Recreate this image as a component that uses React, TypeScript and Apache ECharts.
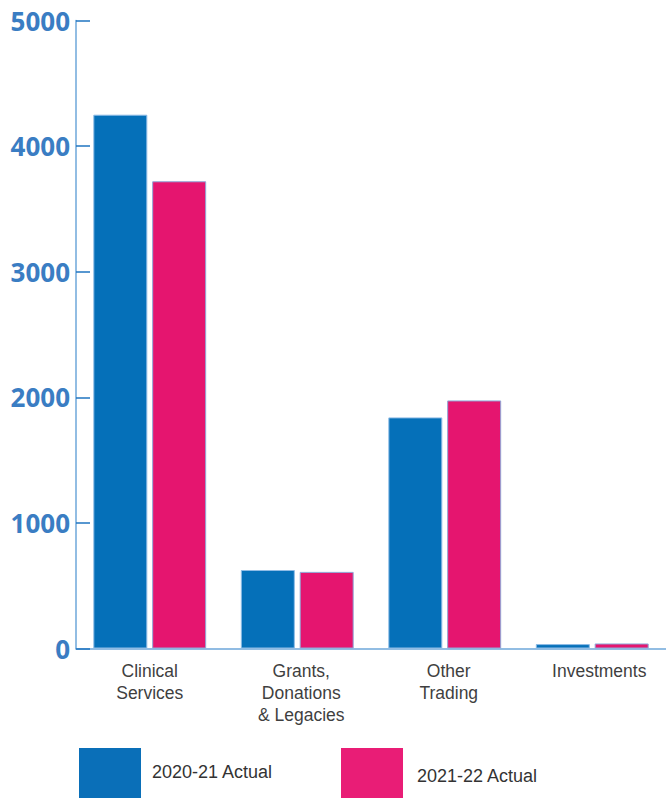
import React, { useEffect, useRef } from "react";
import * as echarts from "echarts";

const categories = ["Clinical\nServices", "Grants,\nDonations\n& Legacies", "Other\nTrading", "Investments"];
const seriesNames = ["2020-21 Actual", "2021-22 Actual"];
const values2021 = [4250, 625, 1840, 35];
const values2122 = [3720, 610, 1975, 40];
const colors = ["#0570b9", "#e5156f"];
const legendColors = ["#0a6fb8", "#e91d76"];
const labelPadLeft = [0, 8, 8, 14];

export default function App() {
  const ref = useRef<HTMLDivElement>(null);
  useEffect(() => {
    document.body.style.margin = "0";
    const chart = echarts.init(ref.current!, undefined, { renderer: "svg" });
    chart.setOption({
      animation: false,
      backgroundColor: "#ffffff",
      grid: { left: 76, right: 0, top: 20.5, bottom: 149.5, containLabel: false },
      xAxis: {
        type: "category",
        data: categories.map((c, i) => ({ value: c, textStyle: { padding: [0, 0, 0, labelPadLeft[i]] } })),
        axisLine: { lineStyle: { color: "#6ea7da", width: 1.5 } },
        axisTick: { inside: true, length: 15, lineStyle: { color: "#4a8fcf", width: 1.5 } },
        axisLabel: {
          color: "#3f3f3f",
          fontFamily: "Liberation Sans",
          fontSize: 17.5,
          lineHeight: 22,
          margin: 11,
          interval: 0,
        },
      },
      yAxis: {
        type: "value",
        min: 0,
        max: 5000,
        interval: 1000,
        splitLine: { show: false },
        axisLine: { show: true, lineStyle: { color: "#6ea7da", width: 1.5 } },
        axisTick: { show: true, inside: true, length: 14, lineStyle: { color: "#1f75c0", width: 1.5 } },
        axisLabel: {
          color: "#3a7dc3",
          fontFamily: "Open Sans",
          fontWeight: "bold",
          fontSize: 26,
          margin: 6,
          formatter: (v: number) => String(v),
        },
      },
      series: [
        {
          name: seriesNames[0],
          type: "bar",
          data: values2021,
          barWidth: 54,
          barGap: "9%",
          itemStyle: { color: colors[0], borderColor: "#8fbce6", borderWidth: 1 },
        },
        {
          name: seriesNames[1],
          type: "bar",
          data: values2122,
          barWidth: 54,
          barGap: "9%",
          itemStyle: { color: colors[1], borderColor: "#8fa8d8", borderWidth: 1 },
        },
      ],
      graphic: [
        { type: "rect", left: 79, top: 748, shape: { width: 62, height: 50 }, style: { fill: legendColors[0] } },
        {
          type: "text",
          left: 152,
          top: 763,
          style: { text: seriesNames[0], fill: "#333333", fontFamily: "Liberation Sans", fontSize: 18 },
        },
        { type: "rect", left: 341, top: 748, shape: { width: 62, height: 50 }, style: { fill: legendColors[1] } },
        {
          type: "text",
          left: 417,
          top: 767,
          style: { text: seriesNames[1], fill: "#333333", fontFamily: "Liberation Sans", fontSize: 18 },
        },
      ],
    });
    return () => chart.dispose();
  }, []);
  return <div ref={ref} style={{ width: 666, height: 798 }} />;
}
